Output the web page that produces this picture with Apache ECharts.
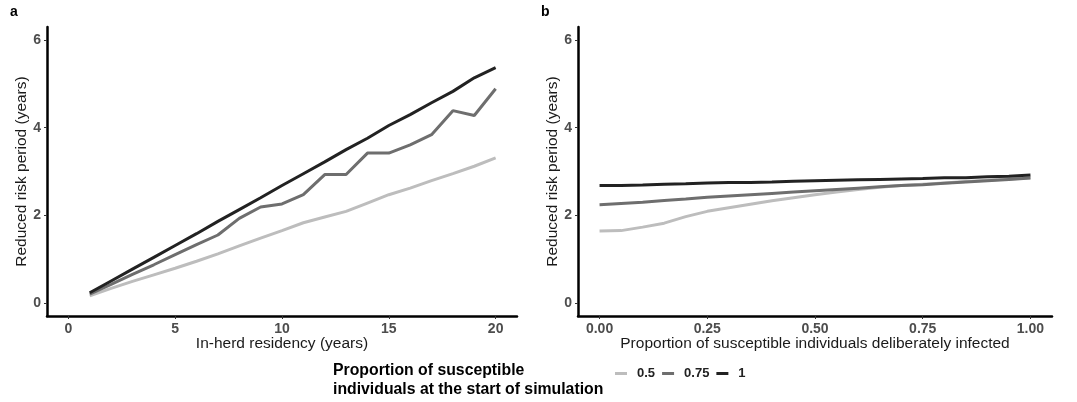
<!DOCTYPE html>
<html>
<head>
<meta charset="utf-8">
<script src="https://cdn.jsdelivr.net/npm/echarts@6/dist/echarts.min.js"></script>
<style>
  html, body { margin: 0; padding: 0; background: #fff; }
  #chart { width: 1077px; height: 402px; }
</style>
</head>
<body>
<div id="chart"></div>
<script>
// panel a: in-herd residency (years)
var residency = [1,2,3,4,5,6,7,8,9,10,11,12,13,14,15,16,17,18,19,20]
var residencyP05 = [0.16,0.33,0.49,0.64,0.79,0.95,1.12,1.30,1.48,1.65,1.83,1.96,2.09,2.28,2.47,2.62,2.79,2.95,3.12,3.31]
var residencyP075 = [0.20,0.42,0.65,0.87,1.10,1.33,1.55,1.93,2.19,2.26,2.47,2.93,2.93,3.42,3.42,3.61,3.84,4.39,4.28,4.89]
var residencyP1 = [0.23,0.50,0.77,1.04,1.31,1.58,1.86,2.13,2.40,2.68,2.95,3.22,3.50,3.76,4.05,4.30,4.57,4.83,5.14,5.37]

// panel b: proportion deliberately infected
var infected = [0,0.05,0.1,0.15,0.2,0.25,0.3,0.35,0.4,0.45,0.5,0.55,0.6,0.65,0.7,0.75,0.8,0.85,0.9,0.95,1]
var infectedP05 = [1.64,1.65,1.73,1.82,1.97,2.09,2.17,2.25,2.33,2.40,2.47,2.53,2.59,2.64,2.68,2.71,2.74,2.77,2.80,2.83,2.86]
var infectedP075 = [2.24,2.27,2.30,2.34,2.37,2.41,2.44,2.47,2.50,2.53,2.56,2.59,2.62,2.65,2.68,2.70,2.73,2.76,2.79,2.82,2.85]
var infectedP1 = [2.68,2.68,2.69,2.71,2.72,2.74,2.75,2.75,2.76,2.78,2.79,2.80,2.81,2.82,2.83,2.84,2.86,2.86,2.88,2.89,2.92]

var xTicksA = [0,5,10,15,20]
var xTicksB = [0,0.25,0.5,0.75,1]
var yTicks = [0,2,4,6]

var groups = ['0.5','0.75','1']
var colors = ['#bdbdbd','#6e6e6e','#222222']

function pairs(xs, ys) {
  return xs.map(function(x, i) { return [x, ys[i]] })
}

var font = 'Liberation Sans, Arial, sans-serif'

function xAxisFor(gridIndex, min, max, ticks, name, digits) {
  return {
    type: 'value',
    gridIndex: gridIndex,
    min: min,
    max: max,
    name: name,
    nameLocation: 'middle',
    nameGap: 20,
    nameMoveOverlap: false,
    nameTextStyle: { fontFamily: font, fontSize: 15.5, color: '#1a1a1a' },
    splitLine: { show: false },
    axisLine: { onZero: false, lineStyle: { color: '#000', width: 2.5 } },
    axisTick: { customValues: ticks, length: 3, lineStyle: { color: '#333', width: 1 } },
    axisLabel: {
      customValues: ticks,
      margin: 6,
      fontFamily: font, fontSize: 14, fontWeight: 'bold', color: '#4d4d4d',
      formatter: function(v) { return digits ? v.toFixed(digits) : String(v) }
    }
  }
}

function yAxisFor(gridIndex) {
  return {
    type: 'value',
    gridIndex: gridIndex,
    min: -0.3,
    max: 6.3,
    name: 'Reduced risk period (years)',
    nameLocation: 'middle',
    nameGap: 17,
    nameMoveOverlap: false,
    nameTextStyle: { fontFamily: font, fontSize: 15.5, color: '#1a1a1a' },
    splitLine: { show: false },
    axisLine: { onZero: false, lineStyle: { color: '#000', width: 2.5 } },
    axisTick: { customValues: yTicks, length: 3, lineStyle: { color: '#333', width: 1 } },
    axisLabel: {
      customValues: yTicks,
      margin: 6,
      fontFamily: font, fontSize: 14, fontWeight: 'bold', color: '#4d4d4d'
    }
  }
}

function lineSeries(name, idx, data, color) {
  return {
    name: name,
    type: 'line',
    xAxisIndex: idx,
    yAxisIndex: idx,
    data: data,
    showSymbol: false,
    symbol: 'none',
    silent: true,
    lineStyle: { color: color, width: 3 },
    itemStyle: { color: color }
  }
}

var chart = echarts.init(document.getElementById('chart'), null, { renderer: 'canvas' })

chart.setOption({
  animation: false,
  backgroundColor: '#fff',
  grid: [
    { left: 47, right: 560, top: 27, bottom: 86 },
    { left: 578, right: 25, top: 27, bottom: 86 }
  ],
  xAxis: [
    xAxisFor(0, -1, 21, xTicksA, 'In-herd residency (years)', 0),
    xAxisFor(1, -0.05, 1.05, xTicksB, 'Proportion of susceptible individuals deliberately infected', 2)
  ],
  yAxis: [yAxisFor(0), yAxisFor(1)],
  legend: {
    left: 615,
    top: 367,
    padding: 0,
    itemWidth: 12,
    itemHeight: 3,
    itemGap: 7,
    icon: 'rect',
    data: groups,
    textStyle: { fontFamily: font, fontSize: 13, fontWeight: 'bold', color: '#222', padding: [0, 0, 0, 5] }
  },
  graphic: [
    { type: 'text', left: 10, top: 5, style: { text: 'a', fontFamily: font, fontSize: 14, fontWeight: 'bold', fill: '#000' } },
    { type: 'text', left: 541, top: 5, style: { text: 'b', fontFamily: font, fontSize: 14, fontWeight: 'bold', fill: '#000' } },
    { type: 'text', left: 333, top: 361, style: {
      text: 'Proportion of susceptible\nindividuals at the start of simulation',
      fontFamily: font, fontSize: 15.8, fontWeight: 'bold', lineHeight: 19, fill: '#000' } }
  ],
  series: [
    lineSeries(groups[0], 0, pairs(residency, residencyP05), colors[0]),
    lineSeries(groups[1], 0, pairs(residency, residencyP075), colors[1]),
    lineSeries(groups[2], 0, pairs(residency, residencyP1), colors[2]),
    lineSeries(groups[0], 1, pairs(infected, infectedP05), colors[0]),
    lineSeries(groups[1], 1, pairs(infected, infectedP075), colors[1]),
    lineSeries(groups[2], 1, pairs(infected, infectedP1), colors[2])
  ]
})
</script>
</body>
</html>
